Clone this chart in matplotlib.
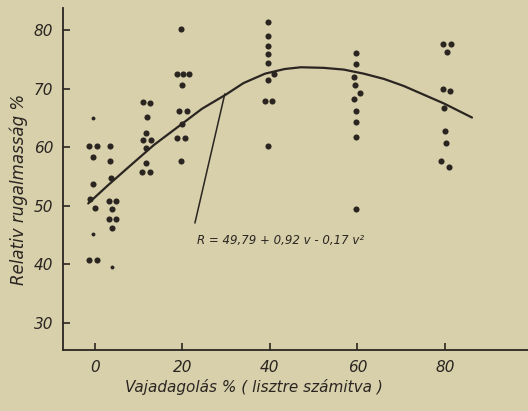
import numpy as np
import matplotlib
matplotlib.use('Agg')
import matplotlib.pyplot as plt

# scanned figure: relative elasticity vs. butter dosage
params = {
          'font.family': ['Liberation Sans Narrow', 'DejaVu Sans'],
          'font.style': 'italic',
          'font.size': 11,
          'xtick.labelsize': 11,
          'ytick.labelsize': 11,
          'axes.spines.top': False,
          'axes.spines.right': False,
          'axes.linewidth': 1.3,
          'xtick.direction': 'in',
          'ytick.direction': 'in',
          'xtick.major.size': 5,
          'ytick.major.size': 5,
          'xtick.major.width': 1.2,
          'ytick.major.width': 1.2,
         }
plt.rcParams.update(params)

paper = '#d8cfab'
ink = '#2a2521'

# measured points (v = butter %, r = relative elasticity %)
dot_v = [-1.4, 0.5, -0.5, -0.4, -1.1, 0.1, -1.4, 0.4,
         3.4, 3.4, 3.8, 3.3, 4.9, 4.0, 3.2, 4.9, 4.0,
         11.0, 12.7, 12.0, 11.7, 11.0, 12.8, 11.7, 11.7, 10.9, 12.7,
         19.7, 18.7, 20.2, 21.6, 20.0, 19.2, 21.0, 20.0, 18.9, 20.7, 19.7,
         39.5, 39.5, 39.6, 39.6, 39.6, 41.0, 39.6, 38.9, 40.6, 39.6,
         59.8, 59.8, 59.3, 59.4, 60.7, 59.3, 59.8, 59.8, 59.8, 59.6,
         79.5, 81.3, 80.4, 79.5, 81.1, 79.8, 80.1, 80.2, 79.2, 81.0]
dot_r = [60.3, 60.3, 58.3, 53.8, 51.1, 49.6, 40.7, 40.7,
         60.2, 57.6, 54.8, 50.8, 50.8, 49.5, 47.8, 47.8, 46.2,
         67.7, 67.5, 65.2, 62.5, 61.2, 61.2, 59.9, 57.4, 55.7, 55.7,
         80.2, 72.6, 72.6, 72.6, 70.7, 66.2, 66.2, 64.0, 61.6, 61.6, 57.7,
         81.4, 79.0, 77.4, 76.0, 74.4, 72.6, 71.6, 68.0, 68.0, 60.2,
         76.2, 74.3, 72.0, 70.6, 69.3, 68.2, 66.3, 64.4, 61.8, 49.4,
         77.7, 77.7, 76.3, 69.9, 69.7, 66.8, 62.8, 60.8, 57.6, 56.6]

# the few tiny dots
small_v = [-0.4, -0.5, 4.0]
small_r = [65.0, 45.1, 39.5]

# regression curve
curve_v = [-1.5, 3.0, 8.0, 13.5, 19.9, 24.5, 29.9, 34.0, 38.9, 43.4, 47.1,
           52.3, 56.9, 61.5, 66.1, 70.6, 75.2, 79.8, 86.2]
curve_r = [50.4, 53.5, 56.8, 60.4, 64.0, 66.6, 69.0, 71.0, 72.6, 73.4, 73.7,
           73.6, 73.3, 72.6, 71.7, 70.5, 69.0, 67.5, 65.1]

# pointer from curve to the equation
leader_v = [29.7, 22.9]
leader_r = [69.1, 47.1]

xticks = [0, 20, 40, 60, 80]
yticks = [30, 40, 50, 60, 70, 80]

fig = plt.figure(figsize=(5.28, 4.11), dpi=100, facecolor=paper)
ax = fig.add_axes([0.119, 0.148, 0.881, 0.832])
ax.set_facecolor(paper)

ax.plot(dot_v, dot_r, 'o', color=ink, ms=4.4, mec='none')
ax.plot(small_v, small_r, 'o', color=ink, ms=2.8, mec='none')
ax.plot(curve_v, curve_r, '-', color=ink, lw=1.6, solid_capstyle='round')
ax.plot(leader_v, leader_r, '-', color=ink, lw=1.1)

ax.text(23.3, 44.0, 'R = 49,79 + 0,92 v - 0,17 v²', color=ink,
        fontsize=8.5, ha='left', va='center')

ax.set_xlim(-7.3, 99)
ax.set_ylim(25.3, 83.8)
ax.set_xticks(xticks)
ax.set_yticks(yticks)
for sp in ax.spines.values():
    sp.set_color(ink)
ax.tick_params(colors=ink, labelcolor=ink, pad=7)

ax.set_xlabel('Vajadagolás % ( lisztre számitva )', fontsize=11, color=ink)
ax.xaxis.set_label_coords(0.41, -0.108)
ax.xaxis.label.set_va('center')
ax.set_ylabel('Relativ rugalmasság %', fontsize=12, color=ink)
ax.yaxis.set_label_coords(-0.095, 0.47)
ax.yaxis.label.set_va('center')

plt.savefig('out.png', dpi=100, facecolor=paper)
